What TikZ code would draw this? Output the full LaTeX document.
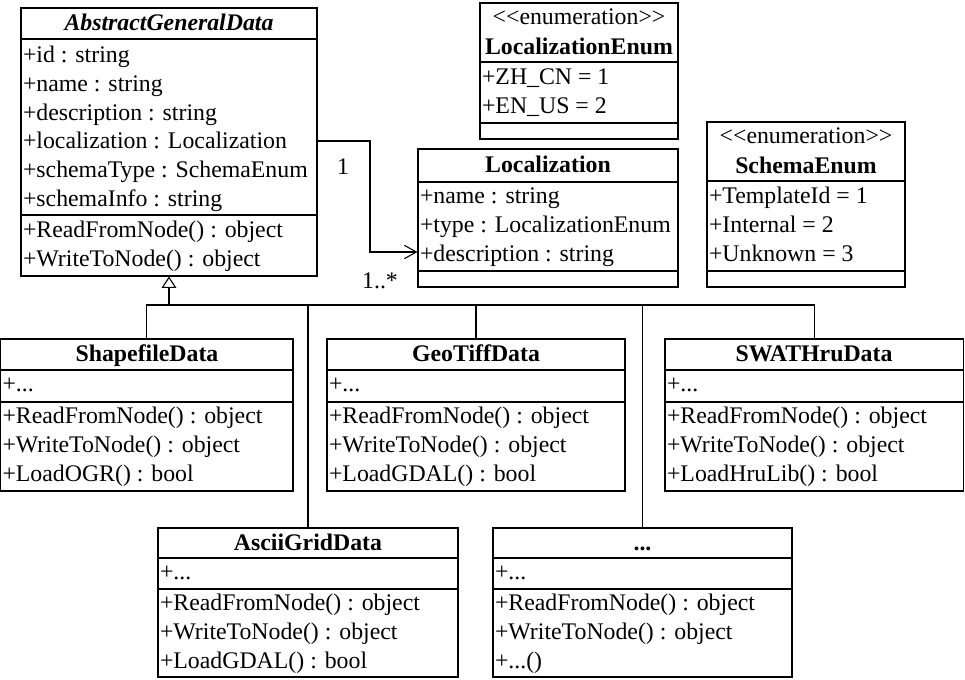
\documentclass[tikz,border=0pt]{standalone}
\usepackage{fontspec}
\setmainfont{Liberation Serif}
\usetikzlibrary{arrows.meta,fit}
\newcommand\umlrow[4]{\node[rowtext] (#1) at (#2,#3) {#4};}
\newcommand\umltitle[4]{\node[titletext] (#1) at (#2,#3) {#4};}
\newcommand\umlsep[2]{\draw[sepline] (#1.west |- 0,#2) -- (#1.east |- 0,#2);}
\begin{document}
\begin{tikzpicture}[x=0.75pt,y=-0.75pt,line width=0.8pt,
  classbox/.style={draw, inner sep=0pt},
  sepline/.style={line width=0.8pt},
  rowtext/.style={anchor=base west, inner sep=0pt, font=\fontsize{17.85}{21.4}\selectfont},
  titletext/.style={anchor=base, inner sep=0pt, font=\fontsize{17.85}{21.4}\selectfont\bfseries},
  stereotext/.style={anchor=base, inner sep=0pt, font=\fontsize{17.85}{21.4}\selectfont},
  labeltext/.style={anchor=base, inner sep=0pt, font=\fontsize{17.85}{21.4}\selectfont},
  assoc/.style={-{Straight Barb[length=9pt,width=10pt]}},
  genarrow/.style={-{Triangle[open,length=8.5pt,width=11pt]}}
]
\useasboundingbox (0,0) rectangle (965,680);

% AbstractGeneralData
\node[classbox, fit={(21,8) (317,276)}] (agd) {};
\umlsep{agd}{39}\umlsep{agd}{215}
\umltitle{agd-t}{169}{31}{\itshape AbstractGeneralData}
\umlrow{agd-a1}{22.5}{62.5}{+id : string}
\umlrow{agd-a2}{22.5}{91.3}{+name : string}
\umlrow{agd-a3}{22.5}{120.1}{+description : string}
\umlrow{agd-a4}{22.5}{148.9}{+localization : Localization}
\umlrow{agd-a5}{22.5}{177.7}{+schemaType : SchemaEnum}
\umlrow{agd-a6}{22.5}{206.5}{+schemaInfo : string}
\umlrow{agd-m1}{22.5}{238}{+ReadFromNode() : object}
\umlrow{agd-m2}{22.5}{266.8}{+WriteToNode() : object}

% LocalizationEnum
\node[classbox, fit={(480,3) (678,139)}] (lenum) {};
\umlsep{lenum}{62}\umlsep{lenum}{123}
\node[stereotext] (lenum-s) at (579,24.5) {<\kern0pt<enumeration>\kern0pt>};
\umltitle{lenum-t}{579}{55}{LocalizationEnum}
\umlrow{lenum-a1}{481.5}{85}{+ZH\_CN = 1}
\umlrow{lenum-a2}{481.5}{114}{+EN\_US = 2}

% Localization
\node[classbox, fit={(418,149) (678,287)}] (loc) {};
\umlsep{loc}{182}\umlsep{loc}{271}
\umltitle{loc-t}{548}{173}{Localization}
\umlrow{loc-a1}{419.5}{204}{+name : string}
\umlrow{loc-a2}{419.5}{233}{+type : LocalizationEnum}
\umlrow{loc-a3}{419.5}{262}{+description : string}

% SchemaEnum
\node[classbox, fit={(707,122) (905,287)}] (senum) {};
\umlsep{senum}{181}\umlsep{senum}{271}
\node[stereotext] (senum-s) at (806,143.5) {<\kern0pt<enumeration>\kern0pt>};
\umltitle{senum-t}{806}{173.5}{SchemaEnum}
\umlrow{senum-a1}{708.5}{204}{+TemplateId = 1}
\umlrow{senum-a2}{708.5}{233}{+Internal = 2}
\umlrow{senum-a3}{708.5}{262}{+Unknown = 3}

% ShapefileData
\node[classbox, fit={(0.5,339) (293,491)}] (shp) {};
\umlsep{shp}{370}\umlsep{shp}{402}
\umltitle{shp-t}{147}{362}{ShapefileData}
\umlrow{shp-a1}{2}{392}{+...}
\umlrow{shp-m1}{2}{424}{+ReadFromNode() : object}
\umlrow{shp-m2}{2}{453}{+WriteToNode() : object}
\umlrow{shp-m3}{2}{482}{+LoadOGR() : bool}

% GeoTiffData
\node[classbox, fit={(327,339) (625,491)}] (geo) {};
\umlsep{geo}{370}\umlsep{geo}{402}
\umltitle{geo-t}{476}{362}{GeoTiffData}
\umlrow{geo-a1}{328.5}{392}{+...}
\umlrow{geo-m1}{328.5}{424}{+ReadFromNode() : object}
\umlrow{geo-m2}{328.5}{453}{+WriteToNode() : object}
\umlrow{geo-m3}{328.5}{482}{+LoadGDAL() : bool}

% SWATHruData
\node[classbox, fit={(665,339) (963.5,491)}] (swat) {};
\umlsep{swat}{370}\umlsep{swat}{402}
\umltitle{swat-t}{814}{362}{SWATHruData}
\umlrow{swat-a1}{666.5}{392}{+...}
\umlrow{swat-m1}{666.5}{424}{+ReadFromNode() : object}
\umlrow{swat-m2}{666.5}{453}{+WriteToNode() : object}
\umlrow{swat-m3}{666.5}{482}{+LoadHruLib() : bool}

% AsciiGridData
\node[classbox, fit={(158,528) (458,677)}] (ascii) {};
\umlsep{ascii}{558}\umlsep{ascii}{589}
\umltitle{ascii-t}{308}{551}{AsciiGridData}
\umlrow{ascii-a1}{159.5}{580}{+...}
\umlrow{ascii-m1}{159.5}{611}{+ReadFromNode() : object}
\umlrow{ascii-m2}{159.5}{640}{+WriteToNode() : object}
\umlrow{ascii-m3}{159.5}{669}{+LoadGDAL() : bool}

% ... (other)
\node[classbox, fit={(493,528) (792,677)}] (dots) {};
\umlsep{dots}{558}\umlsep{dots}{589}
\umltitle{dots-t}{642.5}{551}{...}
\umlrow{dots-a1}{494.5}{580}{+...}
\umlrow{dots-m1}{494.5}{611}{+ReadFromNode() : object}
\umlrow{dots-m2}{494.5}{640}{+WriteToNode() : object}
\umlrow{dots-m3}{494.5}{669}{+...()}

% Association
\draw[assoc] (agd.east |- 0,141) -- (370,141) |- (loc.west |- 0,252);
\node[labeltext] (mult1) at (343,175) {1};
\node[labeltext] (mult2) at (380,289) {1..*};

% Generalization
\coordinate (bus) at (169,305);
\draw[genarrow] (bus) -- (agd.south);
\draw (shp.north) |- (swat.north |- bus) -- (swat.north);
\draw (geo.north) -- (geo.north |- bus);
\draw (ascii.north) -- (ascii.north |- bus);
\draw (dots.north) -- (dots.north |- bus);
\end{tikzpicture}
\end{document}
